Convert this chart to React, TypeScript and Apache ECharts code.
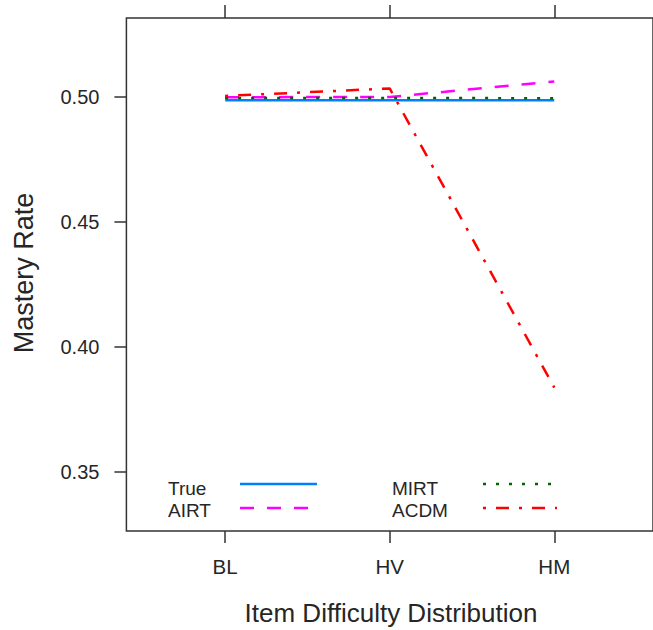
import React, { useEffect, useRef } from "react";
import * as echarts from "echarts";

const categories = ["BL", "HV", "HM"];
const trueRate = [0.4988, 0.4988, 0.4988];
const airtRate = [0.5, 0.5001, 0.5063];
const mirtRate = [0.4997, 0.4997, 0.4996];
const acdmRate = [0.5005, 0.5035, 0.3838];
const yTickValues = [0.35, 0.4, 0.45, 0.5];
const seriesNames = ["True", "AIRT", "MIRT", "ACDM"];

const COLORS = ["#0080ff", "#ff00ff", "#006400", "#ff0000"];
const DASHES: (number[] | "solid")[] = ["solid", [14, 13], [3, 10], [3, 10, 13, 10]];
const FONT = "'Liberation Sans', Arial, sans-serif";
const TEXT = "#262626";

export default function App() {
  const ref = useRef<HTMLDivElement>(null);
  useEffect(() => {
    if (!ref.current) return;
    const chart = echarts.init(ref.current, undefined, { renderer: "svg" });
    const values = [trueRate, airtRate, mirtRate, acdmRate];
    const xTicks = categories.map((_, i) => i + 1);

    const series = seriesNames.map((name, s) => ({
      name,
      type: "line",
      xAxisIndex: 0,
      yAxisIndex: 0,
      symbol: "none",
      data: categories.map((_, i) => [i + 1, values[s][i]]),
      lineStyle: { color: COLORS[s], width: 2.5, type: DASHES[s] },
      z: 2 + s,
    }));

    const legendPos = [
      { tx: 168, ty: 488, lx1: 240, lx2: 317, ly: 484 },
      { tx: 168, ty: 510, lx1: 240, lx2: 317, ly: 508 },
      { tx: 392, ty: 488, lx1: 483, lx2: 557, ly: 484 },
      { tx: 392, ty: 510, lx1: 483, lx2: 557, ly: 508 },
    ];
    const legendGraphics: any[] = [];
    seriesNames.forEach((name, s) => {
      const p = legendPos[s];
      legendGraphics.push({
        type: "text",
        x: p.tx,
        y: p.ty,
        style: {
          text: name,
          fill: TEXT,
          font: `19px ${FONT}`,
          textAlign: "left",
          textVerticalAlign: "middle",
        },
      });
      legendGraphics.push({
        type: "line",
        shape: { x1: p.lx1, y1: p.ly, x2: p.lx2, y2: p.ly },
        style: {
          stroke: COLORS[s],
          lineWidth: 2.5,
          lineDash: DASHES[s] === "solid" ? null : DASHES[s],
        },
      });
    });

    chart.setOption({
      animation: false,
      backgroundColor: "#ffffff",
      grid: {
        left: 126.4,
        top: 18,
        width: 529.6,
        height: 513,
        show: true,
        borderColor: "#333",
        borderWidth: 1.5,
        containLabel: false,
      },
      xAxis: [
        {
          type: "value",
          position: "bottom",
          min: 0.4,
          max: 3.6,
          axisLine: { show: false },
          splitLine: { show: false },
          axisTick: {
            show: true,
            length: 12,
            customValues: xTicks,
            lineStyle: { color: "#333", width: 1.5 },
          },
          axisLabel: {
            show: true,
            customValues: xTicks,
            formatter: (v: number) => categories[Math.round(v) - 1] ?? "",
            margin: 25,
            fontSize: 20.5,
            fontFamily: FONT,
            color: TEXT,
          },
        },
        {
          type: "value",
          position: "top",
          min: 0.4,
          max: 3.6,
          axisLine: { show: false },
          splitLine: { show: false },
          axisTick: {
            show: true,
            length: 13,
            customValues: xTicks,
            lineStyle: { color: "#333", width: 1.5 },
          },
          axisLabel: { show: false },
        },
      ],
      yAxis: [
        {
          type: "value",
          min: 0.3264,
          max: 0.5317,
          axisLine: { show: false },
          splitLine: { show: false },
          axisTick: {
            show: true,
            length: 12,
            customValues: yTickValues,
            lineStyle: { color: "#333", width: 1.5 },
          },
          axisLabel: {
            show: true,
            customValues: yTickValues,
            formatter: (v: number) => v.toFixed(2),
            margin: 27,
            fontSize: 20,
            fontFamily: FONT,
            color: TEXT,
          },
        },
      ],
      series,
      graphic: [
        {
          type: "text",
          x: 391,
          y: 613,
          style: {
            text: "Item Difficulty Distribution",
            fill: TEXT,
            font: `26px ${FONT}`,
            textAlign: "center",
            textVerticalAlign: "middle",
          },
        },
        {
          type: "text",
          x: 24,
          y: 273,
          rotation: Math.PI / 2,
          style: {
            text: "Mastery Rate",
            fill: TEXT,
            font: `27px ${FONT}`,
            textAlign: "center",
            textVerticalAlign: "middle",
          },
        },
        ...legendGraphics,
      ],
    });
    return () => chart.dispose();
  }, []);

  return (
    <div
      ref={ref}
      style={{ position: "absolute", left: 0, top: 0, width: 653, height: 630, background: "#fff" }}
    />
  );
}
